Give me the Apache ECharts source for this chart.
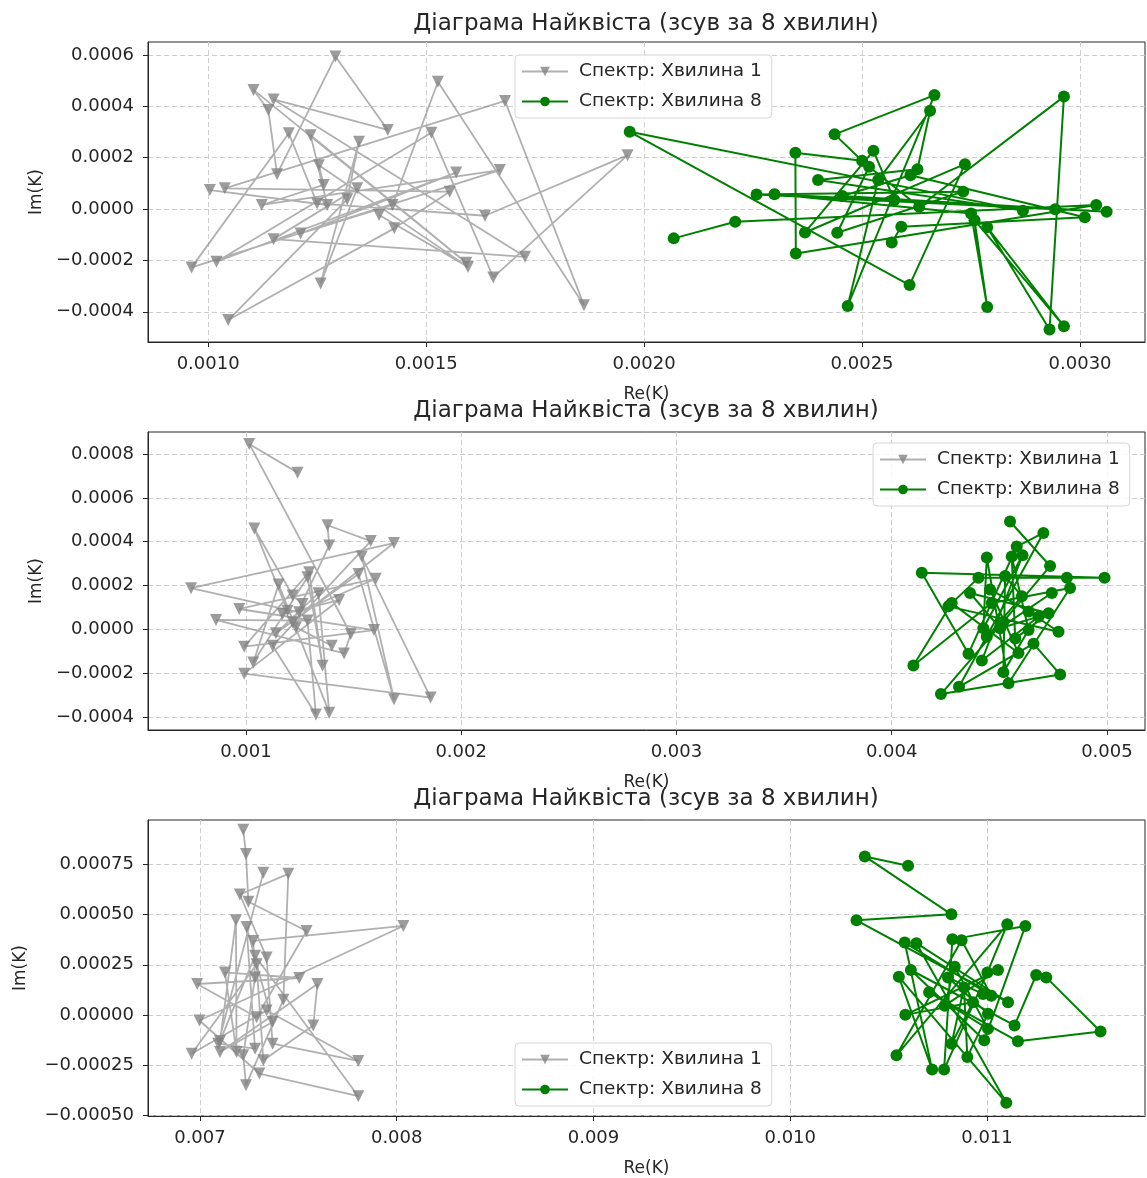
<!DOCTYPE html>
<html>
<head>
<meta charset="utf-8">
<title>Діаграма Найквіста</title>
<script src="https://cdn.jsdelivr.net/npm/echarts@6/dist/echarts.min.js"></script>
<style>
  html, body { margin: 0; padding: 0; background: #ffffff; }
  #chart { width: 1147px; height: 1178px; }
</style>
</head>
<body>
<div id="chart"></div>
<script>
// ---- Data: Nyquist points (Re, Im) of the spectrum, minute 1 and minute 8 ----
const seriesNames = ['Спектр: Хвилина 1', 'Спектр: Хвилина 8'];
const titleText = 'Діаграма Найквіста (зсув за 8 хвилин)';

// Panel 1
const p1Min1Re = [10.04e-4, 12.73e-4, 12.35e-4, 15.92e-4, 11.04e-4, 11.38e-4, 11.58e-4, 12.92e-4, 14.12e-4, 11.50e-4,
  17.27e-4, 11.50e-4, 13.42e-4, 12.58e-4, 13.46e-4, 13.19e-4, 10.46e-4, 14.27e-4, 15.54e-4, 10.38e-4,
  16.81e-4, 18.62e-4, 15.27e-4, 14.23e-4, 12.12e-4, 15.69e-4, 10.19e-4, 15.12e-4, 16.54e-4, 19.62e-4,
  16.35e-4, 12.50e-4, 11.85e-4, 9.62e-4, 16.69e-4, 11.23e-4, 12.65e-4, 12.54e-4, 15.96e-4, 13.92e-4];
const p1Min1Im = [0.74e-4, 0.16e-4, 2.88e-4, -2.09e-4, 4.64e-4, 3.86e-4, 1.36e-4, 5.94e-4, 3.08e-4, 4.27e-4,
  -1.86e-4, -1.17e-4, 0.81e-4, -2.90e-4, 2.62e-4, 0.38e-4, -4.32e-4, -0.75e-4, 0.68e-4, 0.81e-4,
  4.21e-4, -3.74e-4, 4.96e-4, 0.16e-4, -0.95e-4, 1.42e-4, -2.05e-4, 2.97e-4, -2.66e-4, 2.10e-4,
  -0.26e-4, 0.22e-4, 2.95e-4, -2.27e-4, 1.52e-4, 0.16e-4, 0.94e-4, 1.71e-4, -2.25e-4, -0.23e-4];
const p1Min8Re = [20.68e-4, 22.09e-4, 30.37e-4, 23.48e-4, 23.47e-4, 25.00e-4, 24.37e-4, 26.66e-4, 24.67e-4, 25.37e-4,
  26.56e-4, 26.27e-4, 23.99e-4, 28.69e-4, 19.67e-4, 26.09e-4, 27.36e-4, 23.69e-4, 25.26e-4, 25.74e-4,
  29.43e-4, 22.58e-4, 27.32e-4, 24.43e-4, 25.16e-4, 26.31e-4, 29.63e-4, 29.30e-4, 27.87e-4, 29.63e-4,
  27.58e-4, 27.87e-4, 27.50e-4, 22.99e-4, 30.61e-4, 24.55e-4, 26.11e-4, 30.11e-4, 25.90e-4, 25.68e-4];
const p1Min8Im = [-1.14e-4, -0.49e-4, 0.16e-4, -1.73e-4, 2.19e-4, 1.88e-4, 2.91e-4, 4.44e-4, -3.77e-4, 1.13e-4,
  3.83e-4, 1.55e-4, 1.13e-4, -0.06e-4, 3.01e-4, -2.96e-4, 1.75e-4, -0.91e-4, 2.27e-4, 0.35e-4,
  -0.01e-4, 0.57e-4, 0.68e-4, -0.92e-4, 1.65e-4, 0.09e-4, 4.38e-4, -4.69e-4, -0.71e-4, -4.56e-4,
  -0.43e-4, -3.81e-4, -0.17e-4, 0.58e-4, -0.10e-4, 0.51e-4, 1.32e-4, -0.32e-4, -0.69e-4, -1.30e-4];

// Panel 2
const p2Min1Re = [12.40e-4, 10.15e-4, 14.87e-4, 14.56e-4, 8.61e-4, 12.86e-4, 13.25e-4, 11.24e-4, 15.80e-4, 13.79e-4,
  13.87e-4, 12.17e-4, 16.88e-4, 7.45e-4, 12.47e-4, 16.03e-4, 9.69e-4, 15.95e-4, 9.92e-4, 12.94e-4,
  13.56e-4, 12.86e-4, 10.34e-4, 11.52e-4, 13.87e-4, 13.37e-4, 11.39e-4, 15.23e-4, 16.88e-4, 15.38e-4,
  18.58e-4, 9.92e-4, 14.33e-4, 11.70e-4, 11.93e-4, 10.39e-4, 12.17e-4, 12.63e-4, 12.32e-4, 13.99e-4];
const p2Min1Im = [7.15e-4, 8.46e-4, -0.21e-4, -1.10e-4, 0.43e-4, 0.40e-4, -3.88e-4, -0.75e-4, 4.03e-4, 4.75e-4,
  3.83e-4, 0.32e-4, 3.94e-4, 1.88e-4, 0.78e-4, 2.31e-4, 0.93e-4, -0.03e-4, -0.79e-4, 2.61e-4,
  -1.66e-4, 2.38e-4, -1.51e-4, 2.05e-4, -3.80e-4, 1.65e-4, -0.18e-4, 2.53e-4, -3.19e-4, 3.33e-4,
  -3.11e-4, -2.02e-4, 1.34e-4, 0.70e-4, 0.85e-4, 4.60e-4, 1.54e-4, 1.16e-4, 0.09e-4, -0.75e-4];
const p2Min8Re = [45.50e-4, 47.36e-4, 45.19e-4, 42.29e-4, 47.83e-4, 46.59e-4, 43.13e-4, 47.05e-4, 45.81e-4, 43.57e-4,
  41.40e-4, 49.89e-4, 48.14e-4, 44.03e-4, 42.64e-4, 47.75e-4, 46.36e-4, 44.57e-4, 45.89e-4, 42.79e-4,
  41.01e-4, 44.65e-4, 48.29e-4, 45.43e-4, 44.42e-4, 44.26e-4, 46.08e-4, 44.19e-4, 46.82e-4, 45.04e-4,
  43.64e-4, 47.29e-4, 45.74e-4, 45.58e-4, 46.36e-4, 45.19e-4, 45.27e-4, 46.05e-4, 44.42e-4, 47.44e-4];
const p2Min8Im = [4.92e-4, 2.89e-4, 0.35e-4, -2.95e-4, -2.06e-4, -0.65e-4, -2.62e-4, 4.40e-4, 3.78e-4, -1.11e-4,
  2.58e-4, 2.35e-4, 2.35e-4, 2.35e-4, 1.05e-4, -0.11e-4, 0.82e-4, 1.82e-4, -1.08e-4, 1.20e-4,
  -1.65e-4, 1.20e-4, 1.89e-4, -2.46e-4, 3.28e-4, 0.05e-4, 3.38e-4, -1.42e-4, 0.58e-4, 0.05e-4,
  1.66e-4, 0.74e-4, -0.42e-4, 3.32e-4, -0.03e-4, -1.95e-4, 2.43e-4, 1.51e-4, -0.34e-4, 1.66e-4];

// Panel 3
const p3Min1Re = [72.20e-4, 72.34e-4, 72.46e-4, 75.42e-4, 72.88e-4, 69.86e-4, 75.05e-4, 71.27e-4, 71.86e-4, 71.83e-4,
  71.02e-4, 72.80e-4, 78.05e-4, 73.02e-4, 69.97e-4, 80.34e-4, 72.71e-4, 72.80e-4, 72.20e-4, 72.34e-4,
  74.24e-4, 74.49e-4, 72.03e-4, 73.39e-4, 73.69e-4, 78.05e-4, 73.39e-4, 69.58e-4, 72.88e-4, 73.22e-4,
  75.76e-4, 75.97e-4, 71.02e-4, 73.69e-4, 72.37e-4, 72.80e-4, 70.93e-4, 73.22e-4];
const p3Min1Im = [9.24e-4, 8.03e-4, 5.65e-4, 4.19e-4, -0.12e-4, 1.54e-4, 1.84e-4, 2.12e-4, -1.85e-4, 4.72e-4,
  -1.31e-4, 2.95e-4, -4.06e-4, -2.93e-4, -0.28e-4, 4.44e-4, 3.69e-4, 1.87e-4, -2.02e-4, -3.51e-4,
  0.75e-4, 7.04e-4, 6.01e-4, 2.86e-4, -1.44e-4, -2.30e-4, 0.22e-4, -1.94e-4, 2.53e-4, -2.27e-4,
  -0.53e-4, 1.54e-4, -1.85e-4, -0.36e-4, 4.39e-4, -1.69e-4, -1.44e-4, 7.09e-4];
const p3Min8Re = [105.99e-4, 103.79e-4, 108.19e-4, 103.37e-4, 111.07e-4, 106.41e-4, 110.98e-4, 105.52e-4, 107.21e-4, 105.82e-4,
  110.22e-4, 108.71e-4, 105.40e-4, 111.03e-4, 110.02e-4, 107.82e-4, 108.24e-4, 111.95e-4, 109.86e-4, 106.13e-4,
  111.40e-4, 112.50e-4, 113.01e-4, 115.77e-4, 111.57e-4, 107.06e-4, 110.05e-4, 108.36e-4, 107.85e-4, 110.56e-4,
  105.85e-4, 109.29e-4, 108.20e-4, 108.83e-4, 109.00e-4, 110.05e-4, 108.02e-4, 109.80e-4];
const p3Min8Im = [7.45e-4, 7.91e-4, 5.02e-4, 4.72e-4, 0.63e-4, 3.58e-4, -4.39e-4, 1.90e-4, -2.73e-4, 3.61e-4,
  0.96e-4, 3.73e-4, -2.02e-4, 4.52e-4, 2.12e-4, -2.73e-4, 3.77e-4, 4.44e-4, -1.27e-4, 2.24e-4,
  -0.53e-4, 1.99e-4, 1.87e-4, -0.83e-4, -1.32e-4, 1.13e-4, -0.70e-4, 2.40e-4, 0.46e-4, 2.24e-4,
  0.00e-4, 0.63e-4, -1.44e-4, 1.37e-4, -2.10e-4, 0.05e-4, 1.87e-4, 1.04e-4];

// ---- Tick values and their labels ----
const p1XTicks = [0.0010, 0.0015, 0.0020, 0.0025, 0.0030];
const p1XLabels = ['0.0010', '0.0015', '0.0020', '0.0025', '0.0030'];
const p1YTicks = [-0.0004, -0.0002, 0, 0.0002, 0.0004, 0.0006];
const p1YLabels = ['\u22120.0004', '\u22120.0002', '0.0000', '0.0002', '0.0004', '0.0006'];

const p2XTicks = [0.001, 0.002, 0.003, 0.004, 0.005];
const p2XLabels = ['0.001', '0.002', '0.003', '0.004', '0.005'];
const p2YTicks = [-0.0004, -0.0002, 0, 0.0002, 0.0004, 0.0006, 0.0008];
const p2YLabels = ['\u22120.0004', '\u22120.0002', '0.0000', '0.0002', '0.0004', '0.0006', '0.0008'];

const p3XTicks = [0.007, 0.008, 0.009, 0.010, 0.011];
const p3XLabels = ['0.007', '0.008', '0.009', '0.010', '0.011'];
const p3YTicks = [-0.0005, -0.00025, 0, 0.00025, 0.0005, 0.00075];
const p3YLabels = ['\u22120.00050', '\u22120.00025', '0.00000', '0.00025', '0.00050', '0.00075'];

// ---- Layout of the three stacked panels ----
const FONT = 'DejaVu Sans';
const INK = '#262626';
const panels = [
  { top: 42, height: 300, x: [0.000862, 0.003149], y: [-0.0005175, 0.0006506],
    xt: p1XTicks, xl: p1XLabels, yt: p1YTicks, yl: p1YLabels,
    m1: [p1Min1Re, p1Min1Im], m8: [p1Min8Re, p1Min8Im],
    titleTop: 13, yNameGap: 103, legend: { left: 515, top: 55 } },
  { top: 432, height: 298, x: [0.000545, 0.005177], y: [-0.000459, 0.0009004],
    xt: p2XTicks, xl: p2XLabels, yt: p2YTicks, yl: p2YLabels,
    m1: [p2Min1Re, p2Min1Im], m8: [p2Min8Re, p2Min8Im],
    titleTop: 400, yNameGap: 103, legend: { left: 873, top: 443 } },
  { top: 820, height: 298, x: [0.006736, 0.011803], y: [-0.000505, 0.000973],
    xt: p3XTicks, xl: p3XLabels, yt: p3YTicks, yl: p3YLabels,
    m1: [p3Min1Re, p3Min1Im], m8: [p3Min8Re, p3Min8Im],
    titleTop: 788, yNameGap: 119, legend: { left: 515, top: 1043 } }
];

function pairs(re, im) {
  return re.map((v, i) => [v, im[i]]);
}
function labelFor(ticks, labels) {
  return function (v) {
    for (let i = 0; i < ticks.length; i++) {
      if (Math.abs(ticks[i] - v) < 1e-9) return labels[i];
    }
    return '';
  };
}

const grid = [], xAxis = [], yAxis = [], series = [], title = [], legend = [];
const gridLine = { show: true, lineStyle: { color: '#cfcfcf', type: [5, 3], width: 1 } };

panels.forEach((p, k) => {
  grid.push({ left: 148, width: 997, top: p.top, height: p.height,
    show: true, borderColor: INK, borderWidth: 1, backgroundColor: 'transparent', containLabel: false });
  title.push({ text: titleText, left: 646, top: p.titleTop, textAlign: 'center', padding: 0,
    textStyle: { fontFamily: FONT, fontSize: 23, fontWeight: 'normal', color: INK } });
  xAxis.push({ type: 'value', gridIndex: k, min: p.x[0], max: p.x[1],
    name: 'Re(K)', nameLocation: 'middle', nameGap: 44,
    nameTextStyle: { fontFamily: FONT, fontSize: 17, color: INK },
    axisLine: { show: true, onZero: false, lineStyle: { color: INK, width: 1 } },
    axisTick: { show: true, inside: false, length: 5, customValues: p.xt, lineStyle: { color: INK } },
    axisLabel: { customValues: p.xt, formatter: labelFor(p.xt, p.xl), margin: 13,
      fontFamily: FONT, fontSize: 18, color: INK },
    splitLine: gridLine });
  yAxis.push({ type: 'value', gridIndex: k, min: p.y[0], max: p.y[1],
    name: 'Im(K)', nameLocation: 'middle', nameGap: p.yNameGap,
    nameTextStyle: { fontFamily: FONT, fontSize: 17, color: INK },
    axisLine: { show: true, onZero: false, lineStyle: { color: INK, width: 1 } },
    axisTick: { show: true, inside: false, length: 5, customValues: p.yt, lineStyle: { color: INK } },
    axisLabel: { customValues: p.yt, formatter: labelFor(p.yt, p.yl), margin: 14,
      fontFamily: FONT, fontSize: 18, color: INK },
    splitLine: gridLine });
  series.push({
    name: seriesNames[0], type: 'line', xAxisIndex: k, yAxisIndex: k,
    data: pairs(p.m1[0], p.m1[1]),
    symbol: 'triangle', symbolRotate: 180, symbolSize: 12, showSymbol: true,
    lineStyle: { color: 'rgba(128,128,128,0.62)', width: 1.8 },
    itemStyle: { color: 'rgba(128,128,128,0.78)' },
    emphasis: { disabled: true }, z: 2
  });
  series.push({
    name: seriesNames[1], type: 'line', xAxisIndex: k, yAxisIndex: k,
    data: pairs(p.m8[0], p.m8[1]),
    symbol: 'circle', symbolSize: 12, showSymbol: true,
    lineStyle: { color: '#008000', width: 2 },
    itemStyle: { color: '#008000' },
    emphasis: { disabled: true }, z: 3
  });
  legend.push({ data: seriesNames, left: p.legend.left, top: p.legend.top, orient: 'vertical',
    backgroundColor: 'rgba(255,255,255,0.85)', borderColor: '#d6d6d6', borderWidth: 1, borderRadius: 4,
    padding: [7, 10, 7, 6], itemWidth: 46, itemHeight: 12, itemGap: 11,
    textStyle: { fontFamily: FONT, fontSize: 18.5, color: INK, padding: [0, 0, 0, 6] } });
});

const chart = echarts.init(document.getElementById('chart'), null, { renderer: 'canvas' });
chart.setOption({
  backgroundColor: '#ffffff',
  animation: false,
  title, grid, xAxis, yAxis, series, legend
});
</script>
</body>
</html>
